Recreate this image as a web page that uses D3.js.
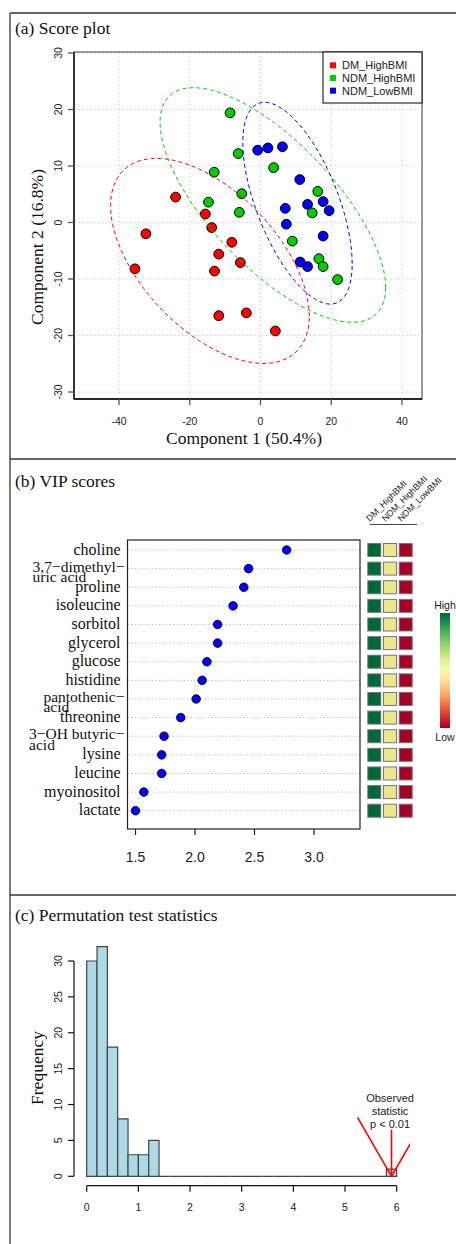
<!DOCTYPE html>
<html lang="en">
<head>
<meta charset="UTF-8">
<script src="https://d3js.org/d3.v7.min.js"></script>
<title>PLS-DA summary</title>
<style>
  body { margin: 0; background: #fff; }
  svg text { font-family: "Liberation Sans", Arial, sans-serif; fill: #222; }
  svg text.serif { font-family: "Liberation Serif", "Times New Roman", serif; fill: #111; }
</style>
</head>
<body>
<div id="container"></div>
<script>
// ---- data: score plot (component 1 / component 2 per group)
var groups = ["DM_HighBMI", "NDM_HighBMI", "NDM_LowBMI"];
var groupColors = ["#ff0000", "#00cd00", "#0000ff"];
var dmHighC1 = [-24.0, -15.6, -13.8, -32.4, -8.1, -11.8, -5.7, -13.0, -35.5, -11.8, -4.0, 4.2];
var dmHighC2 = [4.5, 1.5, -0.9, -2.0, -3.5, -5.6, -7.1, -8.6, -8.2, -16.5, -16.0, -19.2];
var ndmHighC1 = [-8.6, -6.3, -13.1, -14.7, -5.3, -6.0, 3.7, 16.2, 14.6, 9.0, 16.5, 17.7, 21.8];
var ndmHighC2 = [19.4, 12.2, 8.9, 3.6, 5.1, 1.8, 9.7, 5.5, 1.7, -3.3, -6.4, -7.8, -10.1];
var ndmLowC1 = [-0.8, 2.1, 6.2, 11.1, 13.3, 17.7, 19.4, 7.0, 7.3, 17.7, 11.2, 13.3];
var ndmLowC2 = [12.8, 13.2, 13.4, 7.6, 3.2, 3.7, 2.1, 2.5, -0.3, -2.4, -7.0, -7.8];
var scoreXTicks = [-40, -20, 0, 20, 40];
var scoreYTicks = [-30, -20, -10, 0, 10, 20, 30];

// ---- data: VIP scores
var vipFeatures = ["choline", "3,7\u2212dimethyl\u2212\nuric acid", "proline", "isoleucine", "sorbitol",
  "glycerol", "glucose", "histidine", "pantothenic\u2212\nacid", "threonine",
  "3\u2212OH butyric\u2212\nacid", "lysine", "leucine", "myoinositol", "lactate"];
var vipValues = [2.77, 2.45, 2.41, 2.32, 2.19, 2.19, 2.10, 2.06, 2.01, 1.88, 1.74, 1.72, 1.72, 1.57, 1.50];
var vipTicks = [1.5, 2.0, 2.5, 3.0];
// relative level per group (1 = high, 0 = low), same order as groups
var heatDM = [1, 1, 1, 1, 1, 1, 1, 1, 1, 1, 1, 1, 1, 1, 1];
var heatNDMHigh = [0.5, 0.5, 0.5, 0.5, 0.5, 0.5, 0.5, 0.5, 0.5, 0.5, 0.5, 0.5, 0.5, 0.5, 0.5];
var heatNDMLow = [0, 0, 0, 0, 0, 0, 0, 0, 0, 0, 0, 0, 0, 0, 0];

// ---- data: permutation histogram (bin width 0.2 from 0 to 6)
var histCounts = [30, 32, 18, 8, 3, 3, 5, 0, 0, 0, 0, 0, 0, 0, 0,
  0, 0, 0, 0, 0, 0, 0, 0, 0, 0, 0, 0, 0, 0, 1];
var binWidth = 0.2;
var observedStat = 5.9;
var observedLabel = ["Observed", "statistic", "p < 0.01"];
var histXTicks = [0, 1, 2, 3, 4, 5, 6];
var histYTicks = [0, 5, 10, 15, 20, 25, 30];

var svg = d3.select("#container").append("svg")
  .attr("width", 456).attr("height", 1244);

// outer frame and panel dividers
var frame = svg.append("g").attr("stroke", "#333").attr("stroke-width", 1.3);
frame.append("line").attr("x1", 10).attr("y1", 13).attr("x2", 456).attr("y2", 13);
frame.append("line").attr("x1", 10).attr("y1", 13).attr("x2", 10).attr("y2", 1244);
frame.append("line").attr("x1", 10).attr("y1", 459).attr("x2", 456).attr("y2", 459);
frame.append("line").attr("x1", 10).attr("y1", 895).attr("x2", 456).attr("y2", 895);

function title(txt, y) {
  svg.append("text").attr("class", "serif").attr("x", 15).attr("y", y)
    .attr("font-size", "17.5px").text(txt);
}
title("(a) Score plot", 33.5);
title("(b) VIP scores", 487);
title("(c) Permutation test statistics", 920.5);

// ================= (a) score plot =================
(function scorePlot() {
  var x = d3.scaleLinear().domain([-40, 40]).range([119, 402]);
  var y = d3.scaleLinear().domain([-30, 30]).range([392, 53]);
  var box = { x0: 74, x1: 422, y0: 52, y1: 399 };
  var g = svg.append("g");

  // dotted grid
  g.selectAll(".vgrid").data(scoreXTicks).enter().append("line")
    .attr("x1", d => x(d)).attr("x2", d => x(d)).attr("y1", box.y0).attr("y2", box.y1)
    .attr("stroke", "#d0d0d0").attr("stroke-dasharray", "1.5,2.5");
  g.selectAll(".hgrid").data(scoreYTicks).enter().append("line")
    .attr("x1", box.x0).attr("x2", box.x1).attr("y1", d => y(d)).attr("y2", d => y(d))
    .attr("stroke", "#d0d0d0").attr("stroke-dasharray", "1.5,2.5");

  g.append("rect").attr("x", box.x0).attr("y", box.y0)
    .attr("width", box.x1 - box.x0).attr("height", box.y1 - box.y0)
    .attr("fill", "none").attr("stroke", "#666").attr("stroke-width", 1.3);
  g.append("line").attr("x1", box.x0).attr("x2", box.x0).attr("y1", box.y0).attr("y2", box.y1)
    .attr("stroke", "#000").attr("stroke-width", 1.3);
  g.append("line").attr("x1", box.x0).attr("x2", box.x1).attr("y1", box.y1).attr("y2", box.y1)
    .attr("stroke", "#000").attr("stroke-width", 1.3);

  // ticks and tick labels
  g.selectAll(".yt").data(scoreYTicks).enter().append("line")
    .attr("x1", box.x0 - 6).attr("x2", box.x0).attr("y1", d => y(d)).attr("y2", d => y(d))
    .attr("stroke", "#555").attr("stroke-width", 1.3);
  g.selectAll(".ytl").data(scoreYTicks).enter().append("text")
    .attr("transform", d => "translate(61.5," + y(d) + ") rotate(-90)")
    .attr("text-anchor", "middle").attr("font-size", "10.5px").text(d => d);
  g.selectAll(".xt").data(scoreXTicks).enter().append("line")
    .attr("x1", d => x(d)).attr("x2", d => x(d)).attr("y1", box.y1).attr("y2", box.y1 + 6)
    .attr("stroke", "#555").attr("stroke-width", 1.3);
  g.selectAll(".xtl").data(scoreXTicks).enter().append("text")
    .attr("x", d => x(d)).attr("y", 425).attr("text-anchor", "middle")
    .attr("font-size", "10.5px").text(d => d);

  svg.append("text").attr("class", "serif").attr("x", 244).attr("y", 443.5)
    .attr("text-anchor", "middle").attr("font-size", "17.5px").text("Component 1 (50.4%)");
  svg.append("text").attr("class", "serif")
    .attr("transform", "translate(43,247) rotate(-90)")
    .attr("text-anchor", "middle").attr("font-size", "17.5px").text("Component 2 (16.8%)");

  var sets = [
    { c1: dmHighC1, c2: dmHighC2, col: groupColors[0] },
    { c1: ndmHighC1, c2: ndmHighC2, col: groupColors[1] },
    { c1: ndmLowC1, c2: ndmLowC2, col: groupColors[2] }
  ];
  // draw low BMI first so the others sit above it
  [2, 1, 0].forEach(function (k) {
    var s = sets[k];
    g.selectAll(".pt" + k).data(s.c1).enter().append("circle")
      .attr("cx", d => x(d)).attr("cy", (d, i) => y(s.c2[i]))
      .attr("r", 4.9).attr("fill", s.col).attr("stroke", "#000").attr("stroke-width", 1);
  });

  // 95% confidence ellipses from each group's covariance
  var kChi = Math.sqrt(5.991);
  sets.forEach(function (s) {
    var n = s.c1.length;
    var mx = d3.mean(s.c1), my = d3.mean(s.c2);
    var sxx = 0, syy = 0, sxy = 0;
    for (var i = 0; i < n; i++) {
      sxx += (s.c1[i] - mx) * (s.c1[i] - mx);
      syy += (s.c2[i] - my) * (s.c2[i] - my);
      sxy += (s.c1[i] - mx) * (s.c2[i] - my);
    }
    sxx /= n - 1; syy /= n - 1; sxy /= n - 1;
    var l11 = Math.sqrt(sxx), l21 = sxy / l11, l22 = Math.sqrt(syy - l21 * l21);
    var pts = d3.range(0, 2 * Math.PI, Math.PI / 60).map(function (t) {
      var u = Math.cos(t) * kChi, v = Math.sin(t) * kChi;
      return [mx + l11 * u, my + l21 * u + l22 * v];
    });
    g.append("path").datum(pts)
      .attr("d", d3.line().x(d => x(d[0])).y(d => y(d[1])).curve(d3.curveLinearClosed))
      .attr("fill", "none").attr("stroke", s.col).attr("stroke-width", 1)
      .attr("stroke-dasharray", "4,3");
  });

  // legend
  var lg = g.append("g");
  lg.append("rect").attr("x", 323).attr("y", box.y0).attr("width", box.x1 - 323).attr("height", 51)
    .attr("fill", "#fff").attr("stroke", "#000").attr("stroke-width", 1);
  groups.forEach(function (name, i) {
    var cy = 65.3 + i * 12.7;
    lg.append("rect").attr("x", 330).attr("y", cy - 3).attr("width", 6).attr("height", 6)
      .attr("fill", groupColors[i]);
    lg.append("text").attr("x", 342).attr("y", cy + 4).attr("font-size", "11px").text(name);
  });
})();

// ================= (b) VIP scores =================
(function vipPlot() {
  var x = d3.scaleLinear().domain([1.5, 3.0]).range([135.5, 314]);
  var y = d3.scalePoint().domain(d3.range(vipFeatures.length)).range([550, 810.7]);
  var box = { x0: 127.5, x1: 360, y0: 540, y1: 829 };
  var g = svg.append("g");

  g.selectAll(".grid").data(vipValues).enter().append("line")
    .attr("x1", box.x0).attr("x2", box.x1).attr("y1", (d, i) => y(i)).attr("y2", (d, i) => y(i))
    .attr("stroke", "#c4c4c4").attr("stroke-dasharray", "1.5,2");
  g.append("rect").attr("x", box.x0).attr("y", box.y0)
    .attr("width", box.x1 - box.x0).attr("height", box.y1 - box.y0)
    .attr("fill", "none").attr("stroke", "#222").attr("stroke-width", 1.2);

  g.selectAll(".xt").data(vipTicks).enter().append("line")
    .attr("x1", d => x(d)).attr("x2", d => x(d)).attr("y1", box.y1).attr("y2", box.y1 + 6)
    .attr("stroke", "#222").attr("stroke-width", 1.2);
  g.selectAll(".xtl").data(vipTicks).enter().append("text")
    .attr("x", d => x(d)).attr("y", 862).attr("text-anchor", "middle")
    .attr("font-size", "14px").text(d => d.toFixed(1));

  g.selectAll(".dot").data(vipValues).enter().append("circle")
    .attr("cx", d => x(d)).attr("cy", (d, i) => y(i)).attr("r", 4.3)
    .attr("fill", "#0000ff").attr("stroke", "#000").attr("stroke-width", 0.8);

  // row labels; two-line ones are left aligned as a block
  vipFeatures.forEach(function (f, i) {
    var lines = f.split("\n");
    var t = g.append("text").attr("class", "serif").attr("font-size", "16px");
    if (lines.length === 1) {
      t.attr("x", 120.5).attr("y", y(i) + 4.5).attr("text-anchor", "end").text(f);
    } else {
      t.attr("font-size", "15.5px");
      var first = t.append("tspan").text(lines[0]);
      var w = first.node().getComputedTextLength();
      var x0 = 124.5 - w;
      first.attr("x", x0).attr("y", y(i) + 3);
      t.append("tspan").attr("x", x0).attr("y", y(i) + 13.5).text(lines[1]);
    }
  });

  // group heat squares
  var heatColor = d3.scaleLinear().domain([0, 0.5, 1])
    .range(["#a50026", "#ece68c", "#006837"]);
  var cols = [heatDM, heatNDMHigh, heatNDMLow];
  var colX = d3.scalePoint().domain(groups).range([374.3, 405.7]);
  cols.forEach(function (vals, c) {
    g.selectAll(".hm" + c).data(vals).enter().append("rect")
      .attr("x", colX(groups[c]) - 6.5).attr("y", (d, i) => y(i) - 6.5)
      .attr("width", 13).attr("height", 13)
      .attr("fill", d => heatColor(d)).attr("stroke", "#777").attr("stroke-width", 1);
  });
  groups.forEach(function (name) {
    g.append("text")
      .attr("transform", "translate(" + (colX(name) - 4.5) + ",522) rotate(-45)")
      .attr("font-size", "9px").text(name);
  });
  g.append("line").attr("x1", 370).attr("x2", 417).attr("y1", 524.5).attr("y2", 524.5)
    .attr("stroke", "#444").attr("stroke-width", 1);

  // colour key
  var grad = svg.append("defs").append("linearGradient").attr("id", "rdylgn")
    .attr("x1", 0).attr("y1", 0).attr("x2", 0).attr("y2", 1);
  d3.range(0, 1.0001, 0.05).forEach(function (t) {
    grad.append("stop").attr("offset", t).attr("stop-color", d3.interpolateRdYlGn(1 - t));
  });
  g.append("rect").attr("x", 440).attr("y", 613).attr("width", 10).attr("height", 115)
    .attr("fill", "url(#rdylgn)");
  g.append("text").attr("x", 445).attr("y", 609).attr("text-anchor", "middle")
    .attr("font-size", "10.5px").text("High");
  g.append("text").attr("x", 445).attr("y", 741).attr("text-anchor", "middle")
    .attr("font-size", "10.5px").text("Low");
})();

// ================= (c) permutation histogram =================
(function histPlot() {
  var x = d3.scaleLinear().domain([0, 6]).range([86.7, 396.7]);
  var y = d3.scaleLinear().domain([0, 30]).range([1176.3, 961]);
  var g = svg.append("g");

  svg.select("defs").append("clipPath").attr("id", "histclip")
    .append("rect").attr("x", 74).attr("y", 937).attr("width", 336).attr("height", 249);

  var bins = histCounts.map(function (c, i) {
    return { x0: i * binWidth, x1: (i + 1) * binWidth, n: c };
  });
  g.selectAll(".bar").data(bins).enter().append("path")
    .attr("d", d => "M" + x(d.x0) + "," + y(0) + "H" + x(d.x1) + "V" + y(d.n) + "H" + x(d.x0) + "Z")
    .attr("fill", "#add8e6").attr("stroke", "#444").attr("stroke-width", 1.2);

  // axes
  g.append("line").attr("x1", 74).attr("x2", 74).attr("y1", y(0)).attr("y2", y(30))
    .attr("stroke", "#111").attr("stroke-width", 1.2);
  g.selectAll(".yt").data(histYTicks).enter().append("line")
    .attr("x1", 68).attr("x2", 74).attr("y1", d => y(d)).attr("y2", d => y(d))
    .attr("stroke", "#111").attr("stroke-width", 1.2);
  g.selectAll(".ytl").data(histYTicks).enter().append("text")
    .attr("transform", d => "translate(61.5," + y(d) + ") rotate(-90)")
    .attr("text-anchor", "middle").attr("font-size", "10.5px").text(d => d);

  g.append("line").attr("x1", x(0)).attr("x2", x(6)).attr("y1", 1185.7).attr("y2", 1185.7)
    .attr("stroke", "#111").attr("stroke-width", 1.2);
  g.selectAll(".xt").data(histXTicks).enter().append("line")
    .attr("x1", d => x(d)).attr("x2", d => x(d)).attr("y1", 1185.7).attr("y2", 1191.7)
    .attr("stroke", "#111").attr("stroke-width", 1.2);
  g.selectAll(".xtl").data(histXTicks).enter().append("text")
    .attr("x", d => x(d)).attr("y", 1210.5).attr("text-anchor", "middle")
    .attr("font-size", "10.5px").text(d => d);

  svg.append("text").attr("class", "serif")
    .attr("transform", "translate(43,1068) rotate(-90)")
    .attr("text-anchor", "middle").attr("font-size", "17.5px").text("Frequency");

  // observed statistic arrow
  var tipX = x(observedStat), tipY = y(0), topY = y(6.5);
  var arm = 68, ang = Math.PI / 6;
  var ar = g.append("g").attr("clip-path", "url(#histclip)")
    .attr("stroke", "#ff0000").attr("stroke-width", 1.6).attr("fill", "none");
  ar.append("line").attr("x1", tipX).attr("x2", tipX).attr("y1", topY).attr("y2", tipY);
  ar.append("line").attr("x1", tipX - arm * Math.sin(ang)).attr("y1", tipY - arm * Math.cos(ang))
    .attr("x2", tipX).attr("y2", tipY);
  ar.append("line").attr("x1", tipX + arm * Math.sin(ang)).attr("y1", tipY - arm * Math.cos(ang))
    .attr("x2", tipX).attr("y2", tipY);

  observedLabel.forEach(function (s, i) {
    g.append("text").attr("x", tipX - 1.5).attr("y", topY - 28 + i * 13.2)
      .attr("text-anchor", "middle").attr("font-size", "11px").text(s);
  });
})();
</script>
</body>
</html>
